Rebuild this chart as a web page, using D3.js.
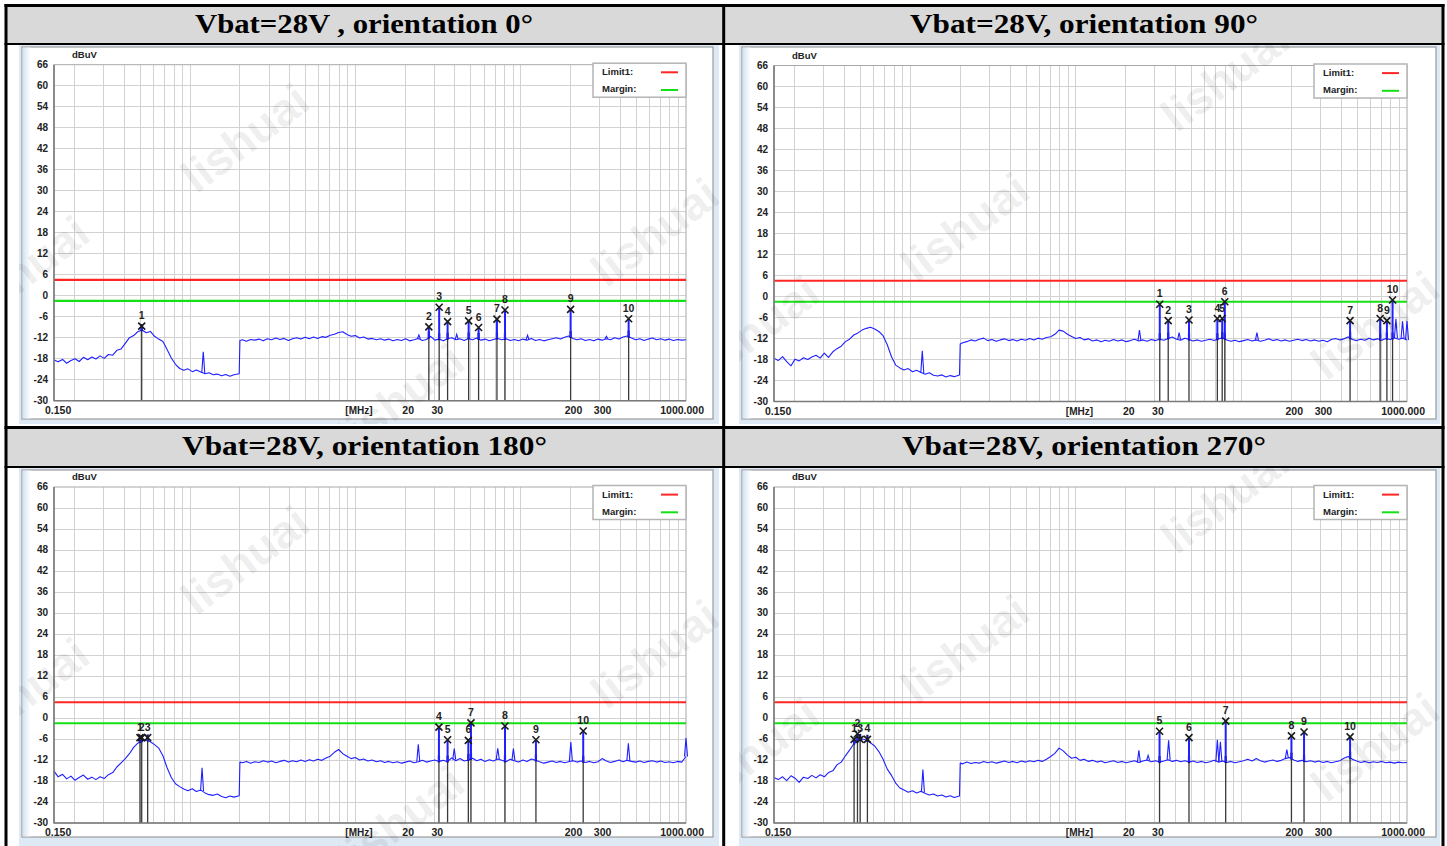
<!DOCTYPE html>
<html><head><meta charset="utf-8">
<script src="https://cdn.jsdelivr.net/npm/d3@7"></script>
<style>html,body{margin:0;padding:0;background:#fff;} svg{display:block}</style>
</head><body>
<svg id="c" width="1447" height="846"></svg>
<script>
// ---------------- DATA ----------------
const titles = ["Vbat=28V , orientation 0°", "Vbat=28V, orientation 90°", "Vbat=28V, orientation 180°", "Vbat=28V, orientation 270°"];
const yTicks = [66, 60, 54, 48, 42, 36, 30, 24, 18, 12, 6, 0, -6, -12, -18, -24, -30];
const xTickLabels = [[20, "20"], [30, "30"], [200, "200"], [300, "300"]];
const limitLevel = 4.5;   // Limit1 (dBuV)
const marginLevel = -1.5; // Margin (dBuV)

// sweep frequencies (MHz)
const freqMHz = [
0.150,0.159,0.169,0.179,0.190,0.201,0.213,0.226,0.240,0.254,
0.269,0.285,0.302,0.320,0.340,0.360,0.382,0.405,0.429,0.455,
0.482,0.511,0.542,0.574,0.609,0.645,0.684,0.725,0.769,0.815,
0.864,0.915,0.970,1.03,1.09,1.16,1.23,1.30,1.38,1.46,
1.55,1.64,1.74,1.84,1.98,2.00,2.07,2.19,2.32,2.46,
2.61,2.77,2.93,3.11,3.30,3.49,3.70,3.93,4.16,4.41,
4.68,4.96,5.26,5.57,5.91,6.26,6.64,7.04,7.46,7.91,
8.38,8.89,9.42,9.98,10.6,11.2,11.9,12.6,13.4,14.2,
15.0,15.9,16.9,17.9,19.0,20.1,21.3,22.6,24.0,25.4,
26.9,28.5,30.2,32.0,34.0,36.0,38.2,40.5,42.9,45.5,
48.2,51.1,54.2,57.4,60.9,64.5,68.4,72.5,76.9,81.5,
86.4,91.5,97.0,103,109,116,123,130,138,146,
155,164,174,184,195,207,219,232,246,261,
277,293,311,330,349,370,393,416,441,468,
496,526,557,591,626,664,704,746,791,838,
889,942,1000];

// measured levels (dBuV) per orientation
const levels0 = [
-18.4,-18.9,-18.2,-19.3,-18.5,-18.0,-18.8,-17.6,-18.3,-17.5,
-18.1,-17.2,-17.9,-16.8,-17.0,-15.6,-15.2,-13.6,-12.0,-11.4,
-10.3,-9.8,-10.6,-10.2,-11.6,-12.4,-13.1,-15.4,-17.8,-19.6,
-20.8,-21.3,-20.9,-21.7,-21.2,-21.8,-22.3,-22.0,-22.6,-22.4,
-22.9,-22.5,-23.0,-22.6,-22.3,-12.8,-12.6,-13.0,-12.5,-12.7,
-12.4,-12.9,-12.3,-12.6,-12.1,-12.5,-12.2,-12.8,-12.3,-12.0,
-12.4,-11.9,-12.3,-11.8,-12.2,-11.7,-11.9,-11.3,-11.0,-10.5,
-10.3,-11.1,-11.6,-11.4,-12.1,-11.8,-12.4,-12.2,-12.6,-12.3,
-12.7,-12.4,-12.9,-12.5,-12.8,-12.3,-12.9,-12.6,-12.2,-12.8,
-12.5,-11.6,-12.7,-12.4,-12.9,-12.3,-12.0,-12.6,-12.3,-12.8,
-12.2,-12.6,-12.1,-12.7,-12.4,-12.9,-12.5,-12.2,-12.6,-12.3,
-12.8,-12.5,-12.9,-12.4,-12.7,-12.2,-12.8,-12.5,-12.9,-12.6,
-12.3,-12.0,-12.4,-11.9,-11.5,-12.2,-12.6,-12.3,-12.8,-12.5,
-12.9,-12.4,-12.7,-12.3,-12.6,-12.0,-12.4,-11.8,-11.5,-12.1,
-12.6,-12.3,-12.8,-12.4,-12.1,-12.6,-12.3,-12.7,-12.4,-12.8,
-12.5,-12.7,-12.6];
const levels90 = [
-17.6,-18.3,-17.2,-18.6,-19.8,-17.9,-18.4,-17.5,-18.0,-17.3,
-16.8,-17.6,-16.2,-17.4,-15.8,-14.9,-14.2,-12.9,-12.2,-11.0,
-10.4,-9.6,-9.1,-8.8,-9.3,-10.0,-11.2,-13.8,-17.2,-19.6,
-20.4,-21.0,-20.6,-21.5,-21.1,-21.7,-22.2,-21.8,-22.5,-22.7,
-22.4,-23.0,-22.6,-22.9,-22.4,-13.6,-13.2,-12.9,-12.4,-12.7,
-12.2,-11.9,-12.6,-12.3,-12.8,-12.4,-12.1,-12.6,-12.3,-12.7,
-12.2,-12.5,-12.0,-12.4,-11.9,-12.2,-11.7,-11.5,-10.8,-9.6,
-9.9,-10.8,-11.4,-12.0,-11.7,-12.4,-12.1,-12.7,-12.4,-12.9,
-12.5,-12.8,-12.3,-12.7,-12.4,-12.9,-12.6,-12.2,-12.7,-12.4,
-12.8,-12.3,-12.6,-12.2,-12.5,-12.0,-11.6,-12.2,-12.5,-11.9,
-12.3,-12.7,-12.4,-12.8,-12.5,-12.2,-12.6,-12.1,-11.8,-12.4,
-12.8,-12.5,-12.9,-12.6,-12.3,-12.7,-12.4,-12.8,-12.5,-12.1,
-12.6,-12.3,-12.7,-12.4,-12.8,-12.5,-12.2,-12.6,-12.3,-12.7,
-12.4,-12.8,-12.5,-12.9,-12.3,-12.0,-12.4,-12.1,-11.6,-12.3,
-12.6,-12.2,-12.5,-11.9,-12.4,-12.1,-12.5,-12.0,-12.3,-11.8,
-12.2,-11.9,-12.4];
const levels180 = [
-15.2,-16.8,-16.1,-17.4,-16.6,-17.8,-17.0,-16.3,-17.5,-16.9,
-17.6,-16.8,-17.3,-16.2,-15.6,-14.0,-12.8,-11.6,-10.2,-8.4,
-7.2,-6.6,-6.2,-6.8,-7.6,-8.6,-10.8,-14.2,-17.0,-18.8,
-19.6,-20.3,-20.8,-20.2,-21.0,-20.6,-21.4,-21.9,-22.1,-21.7,
-22.4,-22.8,-22.3,-22.6,-22.2,-12.6,-12.8,-12.4,-12.9,-12.5,
-12.7,-12.2,-12.6,-12.3,-12.8,-12.4,-12.1,-12.6,-12.2,-12.5,
-12.0,-12.4,-11.9,-12.3,-11.8,-12.1,-11.4,-10.9,-9.8,-9.0,
-10.2,-10.9,-11.6,-11.3,-12.0,-11.7,-12.3,-12.0,-12.5,-12.2,
-12.7,-12.4,-12.8,-12.5,-12.9,-12.6,-12.3,-12.8,-12.5,-12.1,
-12.6,-12.3,-12.0,-12.4,-12.1,-12.5,-11.4,-12.2,-11.6,-12.3,
-12.0,-11.5,-12.2,-11.8,-12.4,-11.9,-12.3,-11.7,-12.1,-12.5,
-11.8,-12.2,-12.6,-12.0,-12.4,-11.7,-12.1,-12.5,-12.9,-12.6,
-12.3,-12.7,-12.4,-12.8,-12.5,-12.2,-12.6,-12.3,-12.7,-12.4,
-12.8,-12.5,-11.6,-12.3,-12.7,-12.4,-12.0,-12.5,-12.1,-12.4,
-12.6,-12.3,-12.7,-12.4,-12.2,-12.6,-12.3,-12.7,-12.5,-12.8,
-12.4,-12.6,-11.0];
const levels270 = [
-17.0,-17.6,-16.8,-17.9,-16.5,-17.2,-18.4,-16.9,-17.3,-16.4,
-17.1,-16.2,-16.8,-15.6,-15.1,-13.4,-12.6,-10.8,-9.2,-7.4,
-6.6,-6.0,-6.3,-7.1,-8.0,-9.6,-11.8,-14.6,-16.4,-18.6,
-20.0,-20.6,-21.2,-20.8,-21.4,-20.9,-21.6,-22.0,-21.7,-22.3,
-22.0,-22.6,-22.2,-22.7,-22.3,-12.9,-13.1,-12.6,-13.0,-12.7,
-12.9,-12.4,-12.8,-12.5,-12.9,-12.6,-12.3,-12.7,-12.4,-12.8,
-12.3,-12.6,-12.2,-12.5,-12.1,-12.4,-11.8,-11.0,-10.1,-8.6,
-9.4,-10.6,-11.5,-11.2,-12.1,-11.8,-12.4,-12.1,-12.6,-12.3,
-12.8,-12.5,-12.2,-12.7,-12.4,-12.8,-12.5,-12.2,-12.7,-12.3,
-12.0,-12.5,-12.2,-12.6,-12.3,-11.9,-12.4,-12.1,-12.5,-12.2,
-12.6,-12.3,-12.7,-12.4,-12.8,-12.5,-12.1,-12.6,-12.3,-12.7,
-12.4,-12.8,-12.5,-12.2,-11.8,-12.3,-11.6,-12.2,-12.6,-12.3,
-12.0,-12.4,-12.1,-11.6,-11.3,-12.0,-12.4,-12.1,-12.5,-12.2,
-12.6,-12.3,-12.7,-12.4,-12.8,-12.5,-12.2,-11.5,-11.0,-11.8,
-12.3,-12.7,-12.4,-12.8,-12.5,-12.7,-12.4,-12.8,-12.6,-12.9,
-12.6,-12.8,-12.7];

// narrow emissions in the trace: [MHz, dBuV]
const spikes0 = [[1.2,-16.0],[24.2,-11.2],[41,-11.0],[110,-11.3],[330,-11.6]];
const spikes90 = [[1.18,-15.5],[24.2,-9.6],[42,-10.3],[124,-10.3],[857,-6.4],[940,-7.1],[1000,-7.0]];
const spikes180 = [[1.18,-14.2],[24.0,-7.5],[39.6,-8.7],[72.6,-8.7],[90.3,-8.7],[201,-6.9],[448,-7.2],[1000,-5.7]];
const spikes270 = [[1.19,-14.7],[24.0,-9.2],[27.3,-10.7],[36.3,-6.4],[71.5,-6.2],[74.6,-6.8],[188,-9.0]];

// markers: [number, MHz, dBuV]
const markers0 = [[1,0.509,-8.7],[2,27.8,-8.9],[3,32.1,-3.3],[4,36.1,-7.4],[5,48.4,-7.2],[6,55.6,-9.1],[7,71.8,-6.7],[8,80.3,-4.1],[9,200.4,-3.9],[10,449.7,-6.6]];
const markers90 = [[1,32.1,-2.2],[2,36.1,-6.9],[3,48.2,-6.7],[4,71.5,-6.3],[5,76.5,-6.3],[6,79.3,-1.5],[7,453,-6.9],[8,688,-6.3],[9,756,-6.9],[10,818,-1.0]];
const markers180 = [[1,0.497,-5.6],[2,0.509,-5.6],[3,0.553,-5.6],[4,32.0,-2.6],[5,36.1,-6.2],[6,48.2,-6.4],[7,50.0,-1.4],[8,80.3,-2.3],[9,123.6,-6.2],[10,238.8,-3.7]];
const markers270 = [[1,0.457,-6.1],[2,0.479,-4.5],[3,0.497,-6.1],[4,0.550,-6.1],[5,32.0,-3.8],[6,48.2,-5.6],[7,80.3,-0.9],[8,200.4,-5.1],[9,238.8,-4.0],[10,453,-5.4]];

// ---------------- LAYOUT ----------------
const SANS = "'Liberation Sans', Arial, sans-serif";
const SERIF = "'Liberation Serif', 'Times New Roman', serif";
const wmA = [[245,138],[655,232],[400,398],[25,270]];
const wmB = [[505,77],[245,227],[655,325],[35,330]];
const panels = [
  {title:titles[0], tw:338, hx:364, hy:33, img:[19,44.5,719,424], inner:[22,47,713,419], plot:[54,64.7,686,400.7], levels:levels0, spikes:spikes0, markers:markers0, wm:wmA, ox:0, oy:0},
  {title:titles[1], tw:348, hx:1084, hy:33, img:[739,44.5,1440,424], inner:[742,47,1436,419], plot:[774,65.5,1407,401.5], levels:levels90, spikes:spikes90, markers:markers90, wm:wmB, ox:720, oy:0},
  {title:titles[2], tw:365, hx:364.5, hy:455, img:[19,468,719,846], inner:[22,470,713,837], plot:[54,487,686,823], levels:levels180, spikes:spikes180, markers:markers180, wm:wmA, ox:0, oy:422},
  {title:titles[3], tw:364, hx:1084, hy:455, img:[739,468,1440,846], inner:[742,470,1436,837], plot:[774,487,1407,823], levels:levels270, spikes:spikes270, markers:markers270, wm:wmB, ox:720, oy:422}
];

const svg = d3.select("#c");
svg.append("rect").attr("width",1447).attr("height",846).attr("fill","#fff");
const defs = svg.append("defs");
const grad = defs.append("linearGradient").attr("id","strip").attr("x1","0").attr("x2","1").attr("y1","0").attr("y2","0");
grad.append("stop").attr("offset","0").attr("stop-color","#d3e2f2");
grad.append("stop").attr("offset","1").attr("stop-color","#ffffff");

// header rows
[[6,44],[428,467]].forEach(([y0,y1]) => {
  svg.append("rect").attr("x",6).attr("y",y0).attr("width",1437).attr("height",y1-y0).attr("fill","#d9d9d9");
});

panels.forEach((p, pi) => {
  const g = svg.append("g");
  const [ix0,iy0,ix1,iy1] = p.img;
  const [nx0,ny0,nx1,ny1] = p.inner;
  const [x0,y0,x1,y1] = p.plot;

  // title
  svg.append("text").attr("x",p.hx).attr("y",p.hy).attr("text-anchor","middle")
    .attr("font-family",SERIF).attr("font-weight","bold").attr("font-size",27)
    .attr("textLength",p.tw).attr("lengthAdjust","spacingAndGlyphs").attr("fill","#000").text(p.title);

  // screenshot frame
  g.append("rect").attr("x",ix0).attr("y",iy0).attr("width",ix1-ix0).attr("height",iy1-iy0).attr("fill","#dde9f5");
  g.append("rect").attr("x",nx0).attr("y",ny0).attr("width",nx1-nx0).attr("height",ny1-ny0).attr("fill","#fff").attr("stroke","#9c9c9c").attr("stroke-width",1.2);
  g.append("rect").attr("x",nx0+0.6).attr("y",ny0+0.6).attr("width",8).attr("height",ny1-ny0-1.2).attr("fill","url(#strip)");

  const x = d3.scaleLog().domain([0.15,1000]).range([x0,x1]);
  const y = d3.scaleLinear().domain([-30,66]).range([y1,y0]);

  // grid
  const grid = g.append("g").attr("stroke","#d2d2d2").attr("stroke-width",1).attr("shape-rendering","crispEdges");
  x.ticks().filter(v => v > 0.15 && v < 1000).forEach(v => {
    grid.append("line").attr("x1",x(v)).attr("x2",x(v)).attr("y1",y0).attr("y2",y1);
  });
  yTicks.filter(v => v > -30 && v < 66).forEach(v => {
    grid.append("line").attr("x1",x0).attr("x2",x1).attr("y1",y(v)).attr("y2",y(v));
  });
  g.append("rect").attr("x",x0).attr("y",y0).attr("width",x1-x0).attr("height",y1-y0)
    .attr("fill","none").attr("stroke","#a8a8a8").attr("stroke-width",1);

  // limit and margin
  g.append("line").attr("x1",x0).attr("x2",x1).attr("y1",y(limitLevel)).attr("y2",y(limitLevel)).attr("stroke","#ff2626").attr("stroke-width",2.2);
  g.append("line").attr("x1",x0).attr("x2",x1).attr("y1",y(marginLevel)).attr("y2",y(marginLevel)).attr("stroke","#14e014").attr("stroke-width",2.2);

  // trace
  const n = Math.min(freqMHz.length, p.levels.length);
  const pts = d3.range(n).map(i => [freqMHz[i], p.levels[i]]);
  const baseAt = f => {
    const i = Math.max(1, Math.min(n-1, d3.bisectLeft(freqMHz.slice(0,n), f)));
    const fa = freqMHz[i-1], fb = freqMHz[i];
    const t = (Math.log(f)-Math.log(fa))/(Math.log(fb)-Math.log(fa));
    return p.levels[i-1] + (p.levels[i]-p.levels[i-1])*Math.max(0,Math.min(1,t));
  };
  g.append("path").datum(pts).attr("fill","none").attr("stroke","#1f1fff").attr("stroke-width",1.1)
    .attr("stroke-linejoin","round")
    .attr("d", d3.line().x(d => x(d[0])).y(d => y(d[1])));

  // narrow emissions
  p.spikes.forEach(([f, lv]) => {
    const b = baseAt(f);
    g.append("path").attr("fill","none").attr("stroke","#1f1fff").attr("stroke-width",1.1)
      .attr("d", `M${x(f)-1.5},${y(b)}L${x(f)},${y(lv)}L${x(f)+1.5},${y(b)}`);
  });

  // markers
  p.markers.forEach(([num, f, lv]) => {
    const b = baseAt(f);
    const xm = x(f);
    g.append("line").attr("x1",xm).attr("x2",xm).attr("y1",y1).attr("y2",y(b)).attr("stroke","#3a3a3a").attr("stroke-width",1.3);
    g.append("line").attr("x1",xm).attr("x2",xm).attr("y1",y(b)+1).attr("y2",y(b)-6).attr("stroke","#10108a").attr("stroke-width",2.2);
    g.append("line").attr("x1",xm).attr("x2",xm).attr("y1",y(b)).attr("y2",y(lv)).attr("stroke","#2020ff").attr("stroke-width",2);
  });
  p.markers.forEach(([num, f, lv]) => {
    const xm = x(f), ym = y(lv);
    g.append("path").attr("d",`M${xm-3.5},${ym-3.5}L${xm+3.5},${ym+3.5}M${xm-3.5},${ym+3.5}L${xm+3.5},${ym-3.5}`)
      .attr("stroke","#1a1a1a").attr("stroke-width",1.6).attr("fill","none");
    g.append("text").attr("x",xm).attr("y",ym-7).attr("text-anchor","middle")
      .attr("font-family",SANS).attr("font-weight","bold").attr("font-size",10.5).attr("fill","#222").text(num);
  });

  // axis lines
  g.append("line").attr("x1",x0).attr("x2",x0).attr("y1",y0).attr("y2",y1+0.5).attr("stroke","#7a7a7a").attr("stroke-width",1.6);
  g.append("line").attr("x1",x0).attr("x2",x1).attr("y1",y1).attr("y2",y1).attr("stroke","#7a7a7a").attr("stroke-width",1.6);

  // y tick labels
  yTicks.forEach(v => {
    g.append("text").attr("x",x0-6).attr("y",y(v)+3).attr("text-anchor","end")
      .attr("font-family",SANS).attr("font-weight","bold").attr("font-size",10).attr("fill","#222").text(v);
  });
  g.append("text").attr("x",x0+18).attr("y",y0-7).attr("font-family",SANS).attr("font-weight","bold")
    .attr("font-size",9.5).attr("fill","#222").text("dBuV");

  // x tick labels
  const xl = y1 + 13;
  g.append("text").attr("x",x0-9).attr("y",xl).attr("font-family",SANS).attr("font-weight","bold").attr("font-size",10.5).attr("fill","#222").text("0.150");
  xTickLabels.forEach(([f, s]) => {
    g.append("text").attr("x",x(f)+3).attr("y",xl).attr("text-anchor","middle").attr("font-family",SANS).attr("font-weight","bold").attr("font-size",10.5).attr("fill","#222").text(s);
  });
  g.append("text").attr("x",x1+18).attr("y",xl).attr("text-anchor","end").attr("font-family",SANS).attr("font-weight","bold").attr("font-size",10.5).attr("fill","#222").text("1000.000");
  g.append("text").attr("x",x(10.5)).attr("y",xl).attr("text-anchor","middle").attr("font-family",SANS).attr("font-weight","bold").attr("font-size",10).attr("fill","#222").text("[MHz]");

  // legend
  const lg = g.append("g");
  lg.append("rect").attr("x",x1-93).attr("y",y0-1.5).attr("width",93).attr("height",34).attr("fill","#fff").attr("stroke","#b4b4b4").attr("stroke-width",1.5);
  lg.append("text").attr("x",x1-84).attr("y",y0+10.5).attr("font-family",SANS).attr("font-weight","bold").attr("font-size",9.5).attr("fill","#222").text("Limit1:");
  lg.append("text").attr("x",x1-84).attr("y",y0+27.5).attr("font-family",SANS).attr("font-weight","bold").attr("font-size",9.5).attr("fill","#222").text("Margin:");
  lg.append("line").attr("x1",x1-25).attr("x2",x1-8).attr("y1",y0+7.6).attr("y2",y0+7.6).attr("stroke","#ff2626").attr("stroke-width",2);
  lg.append("line").attr("x1",x1-25).attr("x2",x1-8).attr("y1",y0+25.3).attr("y2",y0+25.3).attr("stroke","#14e014").attr("stroke-width",2);

  // watermark
  const cid = "clip" + pi;
  defs.append("clipPath").attr("id",cid).append("rect").attr("x",ix0).attr("y",iy0).attr("width",ix1-ix0).attr("height",iy1-iy0);
  const wg = svg.append("g").attr("clip-path",`url(#${cid})`);
  p.wm.forEach(([wx, wy]) => {
    wg.append("text").attr("transform",`translate(${wx + p.ox},${wy + p.oy}) rotate(-37)`)
      .attr("text-anchor","middle").attr("dominant-baseline","central")
      .attr("font-family",SANS).attr("font-weight","bold").attr("font-size",46)
      .attr("fill","#000").attr("fill-opacity",0.075).text("lishuai");
  });
});

// table borders
const bd = svg.append("g").attr("stroke","#000");
bd.append("line").attr("x1",4.5).attr("x2",1444.5).attr("y1",5.5).attr("y2",5.5).attr("stroke-width",3);
bd.append("line").attr("x1",6).attr("x2",6).attr("y1",4).attr("y2",846).attr("stroke-width",3);
bd.append("line").attr("x1",1443).attr("x2",1443).attr("y1",4).attr("y2",846).attr("stroke-width",3);
bd.append("line").attr("x1",723.7).attr("x2",723.7).attr("y1",4).attr("y2",846).attr("stroke-width",3);
bd.append("line").attr("x1",4.5).attr("x2",1444.5).attr("y1",44).attr("y2",44).attr("stroke-width",2);
bd.append("line").attr("x1",4.5).attr("x2",1444.5).attr("y1",427.5).attr("y2",427.5).attr("stroke-width",3);
bd.append("line").attr("x1",4.5).attr("x2",1444.5).attr("y1",467).attr("y2",467).attr("stroke-width",2);
</script></body></html>
